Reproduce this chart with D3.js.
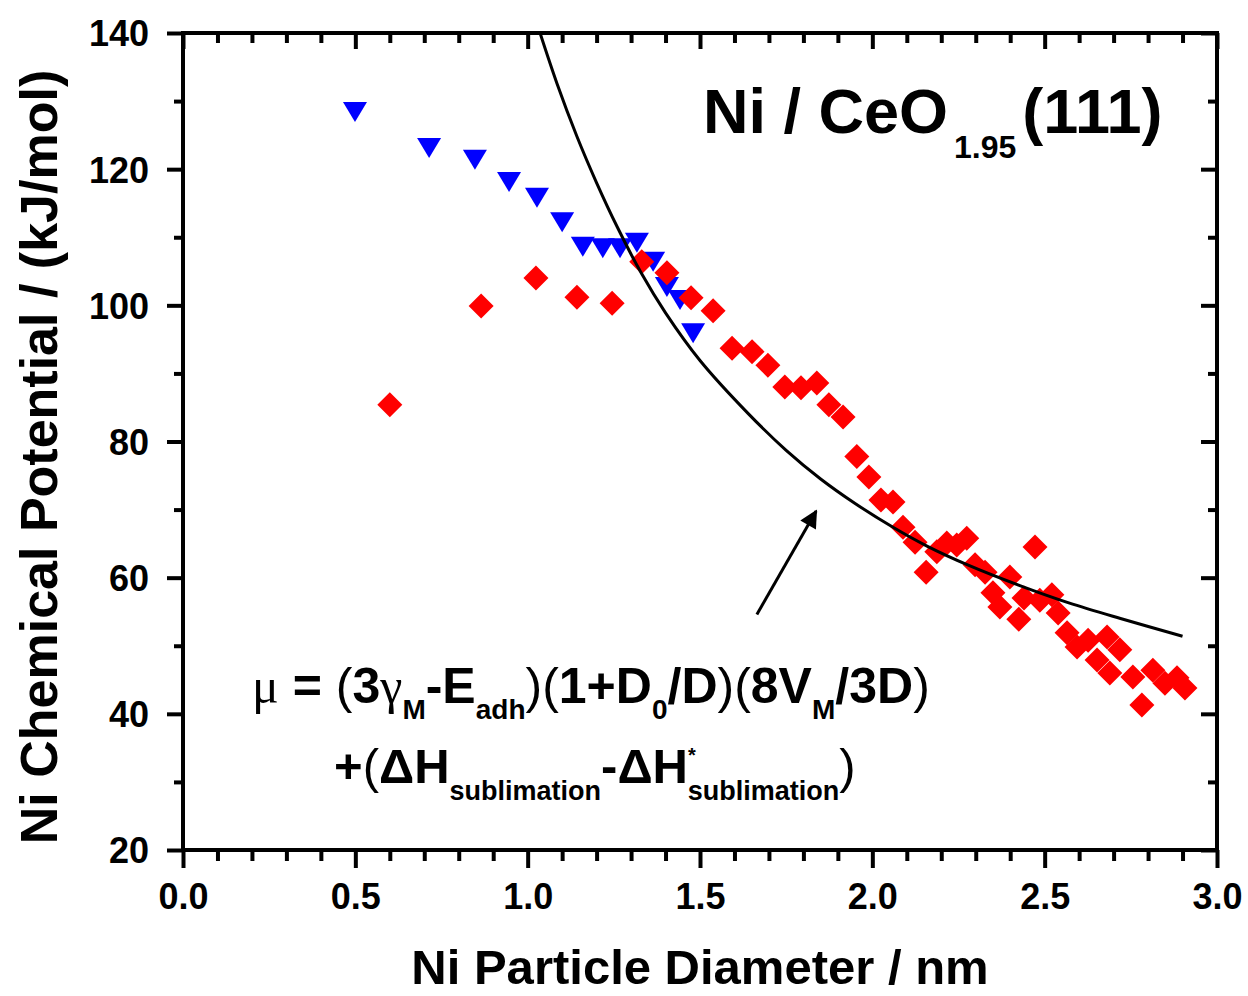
<!DOCTYPE html>
<html><head><meta charset="utf-8">
<script src="https://cdn.jsdelivr.net/npm/d3@7"></script>
<style>body{margin:0;background:#fff}svg{display:block}text{font-family:"Liberation Sans",Arial,sans-serif;font-weight:bold;fill:#000}</style>
</head><body>
<script>
// ---- data ----
const xTicks = [0.0,0.5,1.0,1.5,2.0,2.5,3.0];
const yTicks = [20,40,60,80,100,120,140];
const blueX = [0.499,0.714,0.847,0.946,1.027,1.100,1.160,1.218,1.268,1.317,1.364,1.404,1.442,1.480];
const blueY = [128.4,123.1,121.4,118.1,115.8,112.2,108.6,108.4,108.4,109.2,106.4,102.7,100.8,95.9];
const redX = [0.600,0.865,1.024,1.143,1.245,1.331,1.404,1.474,1.538,1.593,1.651,1.697,1.746,1.793,1.839,1.874,1.915,1.955,1.990,2.025,2.060,2.089,2.124,2.156,2.187,2.216,2.245,2.274,2.298,2.327,2.350,2.370,2.399,2.425,2.440,2.472,2.486,2.521,2.539,2.565,2.594,2.626,2.652,2.681,2.689,2.718,2.756,2.782,2.814,2.849,2.884,2.907];
const redY = [85.4,99.9,104.0,101.2,100.3,106.4,104.8,101.1,99.2,93.7,93.2,91.2,88.0,87.9,88.6,85.4,83.6,77.8,74.8,71.4,71.1,67.4,65.2,60.8,63.8,65.1,64.8,65.8,61.9,60.8,57.8,55.7,60.1,53.9,57.0,64.5,56.7,57.5,54.8,51.9,49.8,50.8,47.9,51.3,46.0,49.4,45.4,41.3,46.4,44.5,45.3,43.8];
const fitX = [1.036,1.085,1.143,1.200,1.260,1.330,1.400,1.500,1.640,1.750,1.850,1.950,2.060,2.160,2.280,2.430,2.570,2.720,2.900];
const fitY = [140.0,132.6,124.8,118.0,111.5,104.7,98.9,91.9,84.1,78.7,74.5,70.9,67.4,64.6,61.8,58.8,56.3,54.0,51.4];
const arrowFrom = [1.665,54.6];
const arrowTo = [1.837,69.8];

const W=1248,H=996;
const svg=d3.select("body").append("svg").attr("width",W).attr("height",H);
const x=d3.scaleLinear().domain([0,3]).range([183,1217]);
const y=d3.scaleLinear().domain([20,140]).range([850,33]);

svg.append("defs").append("clipPath").attr("id","clip").append("rect")
  .attr("x",183).attr("y",33).attr("width",1217-183).attr("height",850-33);

const minorX=d3.range(0,3.0001,0.1).filter(v=>Math.abs(v*2-Math.round(v*2))>1e-6);
const minorY=d3.range(20,140.001,10).filter(v=>v%20!==0);

function styleAxis(g){g.select(".domain").remove();g.selectAll("line").attr("stroke","#000").attr("stroke-width",4);g.selectAll("text").attr("font-size",36).attr("fill","#000");}
svg.append("g").attr("transform","translate(0,850)").call(d3.axisBottom(x).tickValues(xTicks).tickFormat(d3.format(".1f")).tickSize(18).tickPadding(15)).call(styleAxis);
svg.append("g").attr("transform","translate(0,850)").call(d3.axisBottom(x).tickValues(minorX).tickFormat("").tickSize(11)).call(styleAxis);
const ly=svg.append("g").attr("transform","translate(183,0)").call(d3.axisLeft(y).tickValues(yTicks).tickSize(16).tickPadding(18));
styleAxis(ly);
ly.selectAll("text").attr("dy","0.36em");
svg.append("g").attr("transform","translate(183,0)").call(d3.axisLeft(y).tickValues(minorY).tickFormat("").tickSize(9)).call(styleAxis);
svg.append("g").attr("transform","translate(0,33)").call(d3.axisBottom(x).tickValues(xTicks).tickFormat("").tickSize(16)).call(styleAxis);
svg.append("g").attr("transform","translate(0,33)").call(d3.axisBottom(x).tickValues(minorX).tickFormat("").tickSize(10)).call(styleAxis);
svg.append("g").attr("transform","translate(1217,0)").call(d3.axisLeft(y).tickValues(yTicks).tickFormat("").tickSize(16)).call(styleAxis);
svg.append("g").attr("transform","translate(1217,0)").call(d3.axisLeft(y).tickValues(minorY).tickFormat("").tickSize(9)).call(styleAxis);
svg.append("rect").attr("x",183).attr("y",33).attr("width",1217-183).attr("height",850-33)
  .attr("fill","none").attr("stroke","#000").attr("stroke-width",4);

// markers
const tri="M-12,-10L12,-10L0,10Z";
svg.append("g").selectAll("path").data(blueX.map((v,i)=>[v,blueY[i]])).join("path")
  .attr("d",tri).attr("transform",d=>`translate(${x(d[0])},${y(d[1])})`).attr("fill","#0000ff");
const dia="M0,-12.5L12.5,0L0,12.5L-12.5,0Z";
svg.append("g").selectAll("path").data(redX.map((v,i)=>[v,redY[i]])).join("path")
  .attr("d",dia).attr("transform",d=>`translate(${x(d[0])},${y(d[1])})`).attr("fill","#ff0000");

// fit curve
svg.append("path").datum(fitX.map((v,i)=>[v,fitY[i]])).attr("clip-path","url(#clip)")
  .attr("d",d3.line().x(d=>x(d[0])).y(d=>y(d[1])).curve(d3.curveCatmullRom.alpha(0.5)))
  .attr("fill","none").attr("stroke","#000").attr("stroke-width",3);

// arrow
svg.append("defs").append("marker").attr("id","ah").attr("viewBox","0 0 10 10").attr("refX",9).attr("refY",5)
  .attr("markerWidth",7.5).attr("markerHeight",6).attr("markerUnits","strokeWidth").attr("orient","auto")
  .append("path").attr("d","M0,0L10,5L0,10Z").attr("fill","#000");
svg.append("line").attr("x1",x(arrowFrom[0])).attr("y1",y(arrowFrom[1])).attr("x2",x(arrowTo[0])).attr("y2",y(arrowTo[1]))
  .attr("stroke","#000").attr("stroke-width",3).attr("marker-end","url(#ah)");

function rich(tx,ty,size,segs){
  const t=svg.append("text").attr("x",tx).attr("y",ty).attr("font-size",size);
  let shift=0;
  segs.forEach(s=>{
    const sp=t.append("tspan").text(s.t);
    let target=0, fs=size;
    if(s.k==="sub"){target=s.off;fs=s.fs;}
    else if(s.k==="sup"){target=-s.off;fs=s.fs;}
    sp.attr("dy",target-shift).attr("font-size",fs);
    if(s.dx) sp.attr("dx",s.dx);
    if(s.w) sp.attr("font-weight",s.w);
    if(s.f) sp.attr("font-family",s.f);
    shift=target;
  });
  return t;
}

// title
rich(703,133,63,[{t:"Ni / CeO"},{t:"1.95",k:"sub",off:25,fs:32,dx:6},{t:"(111)",dx:6}]);

// formula
rich(252,703,50,[
  {t:"μ",w:"normal",f:"Liberation Serif, serif"},{t:" = "},{t:"(",w:"normal"},{t:"3"},{t:"γ",w:"normal",f:"Liberation Serif, serif"},
  {t:"M",k:"sub",off:16,fs:28},{t:"-E"},{t:"adh",k:"sub",off:16,fs:28},{t:")(",w:"normal"},{t:"1+D"},{t:"0",k:"sub",off:16,fs:28},
  {t:"/D"},{t:")(",w:"normal"},{t:"8V"},{t:"M",k:"sub",off:16,fs:28},{t:"/3D"},{t:")",w:"normal"}
]);
rich(334,783,49,[
  {t:"+"},{t:"(",w:"normal"},{t:"ΔH"},{t:"sublimation",k:"sub",off:17,fs:27},{t:"-ΔH"},
  {t:"*",k:"sup",off:21,fs:20},{t:"sublimation",k:"sub",off:17,fs:27,dx:-8},{t:")",w:"normal"}
]);

// axis titles
svg.append("text").attr("x",700).attr("y",984).attr("text-anchor","middle").attr("font-size",49).text("Ni Particle Diameter / nm");
svg.append("text").attr("transform","translate(57,457) rotate(-90)").attr("text-anchor","middle").attr("font-size",52).text("Ni Chemical Potential / (kJ/mol)");
</script>
</body></html>
